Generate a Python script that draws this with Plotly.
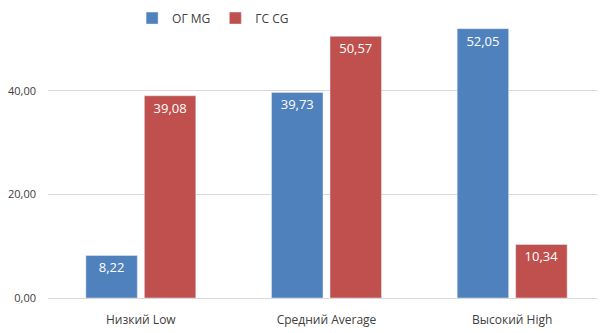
import plotly.graph_objects as go

categories = ["Низкий Low", "Средний Average", "Высокий High"]
mg_values = [8.22, 39.73, 52.05]
cg_values = [39.08, 50.57, 10.34]
series_names = ["ОГ MG", "ГС CG"]
tick_values = [0, 20, 40]

fig = go.Figure()
fig.add_bar(x=categories, y=mg_values, name=series_names[0], marker_color="#4F81BD",
            texttemplate="%{y:.2f}", textposition="inside", insidetextanchor="end",
            textfont=dict(color="white", size=13), textangle=0)
fig.add_bar(x=categories, y=cg_values, name=series_names[1], marker_color="#C0504D",
            texttemplate="%{y:.2f}", textposition="inside", insidetextanchor="end",
            textfont=dict(color="white", size=13), textangle=0)

fig.update_layout(
    width=597, height=325,
    margin=dict(l=40, r=0, t=2, b=35, autoexpand=False),
    separators=", ",
    barmode="group", bargap=0.37, bargroupgap=0.12,
    plot_bgcolor="white", paper_bgcolor="white",
    font=dict(family="Open Sans", size=12, color="#404040"),
    legend=dict(orientation="h", x=0.151, xanchor="left", y=0.972, yanchor="middle",
                xref="paper", yref="paper", font=dict(size=12, color="#404040"),
                itemwidth=30, traceorder="normal", bgcolor="rgba(0,0,0,0)"),
)
fig.update_yaxes(range=[0, 55.65], tickvals=tick_values, tickformat=".2f",
                 gridcolor="#D9D9D9", zeroline=False, showline=False, automargin=False,
                 ticks="", ticklabelstandoff=11, tickfont=dict(size=11))
fig.update_xaxes(showline=True, linecolor="#D9D9D9", ticks="", automargin=False,
                 ticklabelstandoff=11, tickfont=dict(size=12))

fig.write_html("out.html")
